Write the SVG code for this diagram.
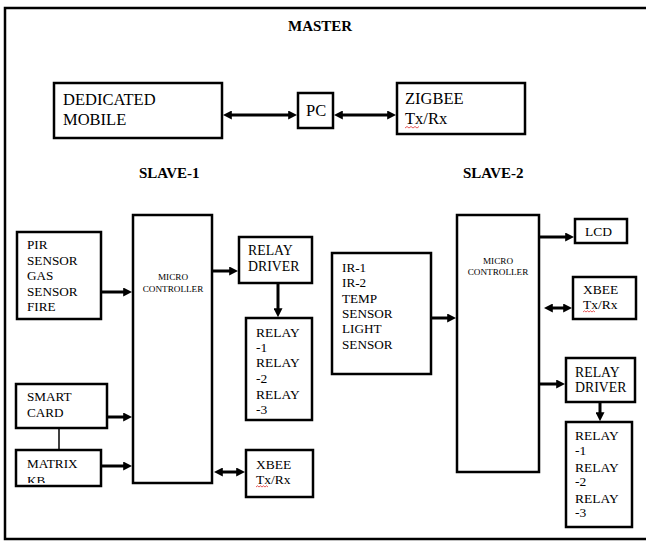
<svg xmlns="http://www.w3.org/2000/svg" width="646" height="541" viewBox="0 0 646 541">
<style>
.box{fill:#fff;stroke:#000;stroke-width:2.5}
.t{font-family:"Liberation Serif","Times New Roman",Times,serif;fill:#000}
.b{font-family:"Liberation Serif","Times New Roman",Times,serif;font-weight:bold;fill:#000;font-size:15px}
.m{font-family:"Liberation Serif","Times New Roman",Times,serif;fill:#000;font-size:9.2px;text-anchor:middle}
.c{stroke:#000;stroke-width:3;fill:none}
.sq{stroke:#e03030;stroke-width:0.8;fill:none}
</style>
<defs>
<marker id="ah" viewBox="0 0 10 10" refX="2" refY="5" markerWidth="9" markerHeight="9" markerUnits="userSpaceOnUse" orient="auto-start-reverse">
<path d="M0,0 L10,5 L0,10 z" fill="#000"/>
</marker>
<clipPath id="kbclip"><rect x="17" y="451" width="83" height="32"/></clipPath>
</defs>
<rect width="646" height="541" fill="#fff"/>
<g id="frame" stroke="#000" stroke-width="2.5" fill="none">
<polyline points="646,8 5,8 5,539 646,539"/>
</g>
<g font-family="'Liberation Serif', 'Times New Roman', serif">
<text class="b" x="288" y="31">MASTER</text>
<text class="b" x="139" y="178">SLAVE-1</text>
<text class="b" x="463" y="178">SLAVE-2</text>
</g>

<g id="connectors">
<line class="c" x1="230" y1="115" x2="290" y2="115" marker-start="url(#ah)" marker-end="url(#ah)"/>
<line class="c" x1="341" y1="115" x2="389" y2="115" marker-start="url(#ah)" marker-end="url(#ah)"/>
<line class="c" x1="101" y1="292" x2="125" y2="292" marker-end="url(#ah)"/>
<line class="c" x1="107" y1="417" x2="125" y2="417" marker-end="url(#ah)"/>
<line class="c" x1="101" y1="466" x2="125" y2="466" marker-end="url(#ah)"/>
<line x1="59" y1="428" x2="59" y2="450" stroke="#000" stroke-width="1.5"/>
<line class="c" x1="213" y1="271" x2="231" y2="271" marker-end="url(#ah)"/>
<line class="c" x1="278" y1="283" x2="278" y2="310" marker-end="url(#ah)"/>
<line class="c" x1="221" y1="472" x2="238" y2="472" marker-start="url(#ah)" marker-end="url(#ah)"/>
<line class="c" x1="431" y1="318" x2="449" y2="318" marker-end="url(#ah)"/>
<line class="c" x1="539" y1="237" x2="567" y2="237" marker-end="url(#ah)"/>
<line class="c" x1="551" y1="308" x2="565" y2="308" marker-start="url(#ah)" marker-end="url(#ah)"/>
<line class="c" x1="539" y1="384" x2="558" y2="384" marker-end="url(#ah)"/>
<line class="c" x1="600" y1="402" x2="600" y2="414" marker-end="url(#ah)"/>
</g>

<g font-family="'Liberation Serif', 'Times New Roman', serif">
<g id="dedicated-mobile">
<rect class="box" x="54" y="83" width="168" height="55"/>
<text class="t" font-size="16.5" x="63" y="105">DEDICATED</text>
<text class="t" font-size="16.5" x="63" y="125">MOBILE</text>
</g>
<g id="pc">
<rect class="box" x="298" y="93" width="35" height="35"/>
<text class="t" font-size="16.5" x="306" y="116">PC</text>
</g>
<g id="zigbee">
<rect class="box" x="397" y="83" width="128" height="51"/>
<text class="t" font-size="16.5" x="405" y="104">ZIGBEE</text>
<text class="t" font-size="16.5" x="405" y="124">Tx/Rx</text>
<path class="sq" d="M405,128 l2,-1.5 l2,1.5 l2,-1.5 l2,1.5 l2,-1.5 l2,1.5 l2,-1.5"/>
</g>

<g id="pir-sensors">
<rect class="box" x="17" y="232" width="84" height="87"/>
<text class="t" font-size="13.2" x="27"><tspan x="27" y="249">PIR</tspan><tspan x="27" y="265">SENSOR</tspan><tspan x="27" y="280">GAS</tspan><tspan x="27" y="296">SENSOR</tspan><tspan x="27" y="311">FIRE</tspan></text>
</g>
<g id="smart-card">
<rect class="box" x="16" y="384" width="91" height="44"/>
<text class="t" font-size="13.2" x="27"><tspan x="27" y="401">SMART</tspan><tspan x="27" y="417">CARD</tspan></text>
</g>
<g id="matrix-kb">
<rect class="box" x="16" y="450" width="85" height="36"/>
<g clip-path="url(#kbclip)"><text class="t" font-size="13.2" x="27"><tspan x="27" y="468">MATRIX</tspan><tspan x="27" y="485">KB</tspan></text></g>
</g>
<g id="micro-controller-1">
<rect class="box" x="133" y="215" width="79" height="268"/>
<text class="m" x="173" y="280">MICRO</text>
<text class="m" x="173" y="292">CONTROLLER</text>
</g>
<g id="relay-driver-1">
<rect class="box" x="239" y="237" width="73" height="46"/>
<text class="t" font-size="13.8" x="248"><tspan x="248" y="255">RELAY</tspan><tspan x="248" y="271">DRIVER</tspan></text>
</g>
<g id="relays-1">
<rect class="box" x="246" y="318" width="66" height="102"/>
<text class="t" font-size="13.5" x="256"><tspan x="256" y="337">RELAY</tspan><tspan x="256" y="352">-1</tspan><tspan x="256" y="367">RELAY</tspan><tspan x="256" y="383">-2</tspan><tspan x="256" y="399">RELAY</tspan><tspan x="256" y="414">-3</tspan></text>
</g>
<g id="xbee-1">
<rect class="box" x="246" y="450" width="67" height="47"/>
<text class="t" font-size="13.5" x="256"><tspan x="256" y="469">XBEE</tspan><tspan x="256" y="484">Tx/Rx</tspan></text>
<path class="sq" d="M256,487 l1.5,-1.2 l1.5,1.2 l1.5,-1.2 l1.5,1.2 l1.5,-1.2 l1.5,1.2 l1.5,-1.2 l1.5,1.2"/>
</g>

<g id="ir-sensors">
<rect class="box" x="332" y="253" width="99" height="121"/>
<text class="t" font-size="13.2" x="342"><tspan x="342" y="272">IR-1</tspan><tspan x="342" y="287">IR-2</tspan><tspan x="342" y="303">TEMP</tspan><tspan x="342" y="318">SENSOR</tspan><tspan x="342" y="333">LIGHT</tspan><tspan x="342" y="349">SENSOR</tspan></text>
</g>
<g id="micro-controller-2">
<rect class="box" x="457" y="215" width="82" height="257"/>
<text class="m" x="498" y="264">MICRO</text>
<text class="m" x="498" y="275">CONTROLLER</text>
</g>
<g id="lcd">
<rect class="box" x="575" y="219" width="52" height="24"/>
<text class="t" font-size="13.5" x="585" y="236">LCD</text>
</g>
<g id="xbee-2">
<rect class="box" x="573" y="277" width="63" height="42"/>
<text class="t" font-size="13.5" x="583"><tspan x="583" y="294">XBEE</tspan><tspan x="583" y="309">Tx/Rx</tspan></text>
<path class="sq" d="M583,312 l1.5,-1.2 l1.5,1.2 l1.5,-1.2 l1.5,1.2 l1.5,-1.2 l1.5,1.2 l1.5,-1.2 l1.5,1.2"/>
</g>
<g id="relay-driver-2">
<rect class="box" x="566" y="358" width="69" height="44"/>
<text class="t" font-size="13.8" x="575"><tspan x="575" y="377">RELAY</tspan><tspan x="575" y="392">DRIVER</tspan></text>
</g>
<g id="relays-2">
<rect class="box" x="566" y="422" width="66" height="105"/>
<text class="t" font-size="13.5" x="575"><tspan x="575" y="440">RELAY</tspan><tspan x="575" y="455">-1</tspan><tspan x="575" y="472">RELAY</tspan><tspan x="575" y="486">-2</tspan><tspan x="575" y="503">RELAY</tspan><tspan x="575" y="517">-3</tspan></text>
</g>
</g>
</svg>
